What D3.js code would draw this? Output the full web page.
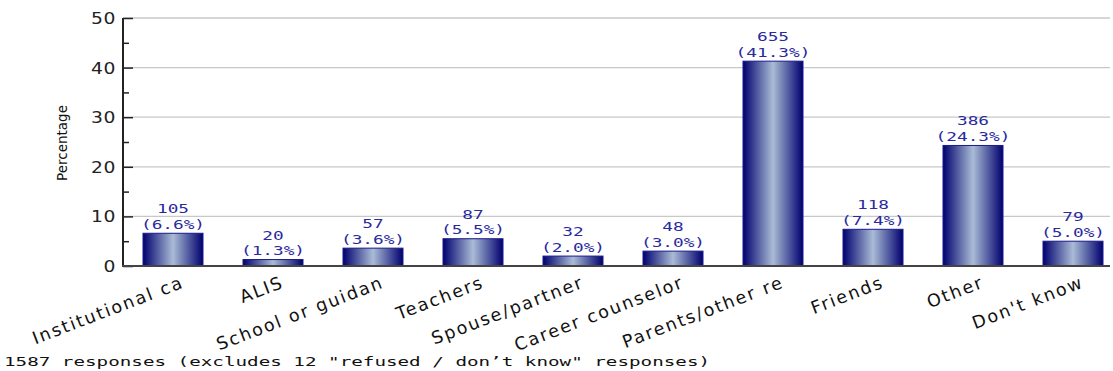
<!DOCTYPE html>
<html>
<head>
<meta charset="utf-8">
<script src="https://cdn.jsdelivr.net/npm/d3@7"></script>
<style>
  body { margin: 0; background: #fff; }
  svg { display: block; }
</style>
</head>
<body>
<div id="chart"></div>
<script>
// chart values
const categories = ["Institutional ca", "ALIS", "School or guidan", "Teachers", "Spouse/partner",
    "Career counselor", "Parents/other re", "Friends", "Other", "Don't know"];
const counts = [105, 20, 57, 87, 32, 48, 655, 118, 386, 79];
const percents = [6.6, 1.3, 3.6, 5.5, 2.0, 3.0, 41.3, 7.4, 24.3, 5.0];
const yTicks = [0, 10, 20, 30, 40, 50];
const footnote = "1587 responses (excludes 12 \"refused / don\u2019t know\" responses)";

const W = 1113, H = 371;
const plotLeft = 123, plotRight = 1110, plotTop = 18, plotBottom = 266;

const svg = d3.select("#chart").append("svg")
    .attr("width", W).attr("height", H);

const x = d3.scaleBand().domain(categories).range([plotLeft, plotLeft + 1000]).paddingInner(0.4).paddingOuter(0.2);
const y = d3.scaleLinear().domain([0, 50]).range([plotBottom, plotTop]);

const defs = svg.append("defs");
const grad = defs.append("linearGradient").attr("id", "barGrad")
    .attr("x1", "0%").attr("x2", "100%").attr("y1", "0%").attr("y2", "0%");
grad.append("stop").attr("offset", "0%").attr("stop-color", "#00006e");
grad.append("stop").attr("offset", "50%").attr("stop-color", "#a9bcd6");
grad.append("stop").attr("offset", "100%").attr("stop-color", "#00006e");

// gridlines
svg.append("g")
    .selectAll("line")
    .data(yTicks.filter(d => d > 0))
    .enter().append("line")
    .attr("x1", plotLeft).attr("x2", plotRight)
    .attr("y1", d => y(d)).attr("y2", d => y(d))
    .attr("stroke", "#c8c8c8").attr("stroke-width", 1.3);

// bars
svg.selectAll("rect.bar")
    .data(categories)
    .enter().append("rect")
    .attr("class", "bar")
    .attr("x", d => x(d))
    .attr("width", x.bandwidth())
    .attr("y", (d, i) => y(percents[i]))
    .attr("height", (d, i) => y(0) - y(percents[i]))
    .attr("fill", "url(#barGrad)")
    .attr("stroke", "#1a1a8a").attr("stroke-width", 1);

// value labels (wide monospace look)
const sx = 1.42;
const lbl = svg.append("g")
    .attr("font-family", "DejaVu Sans Mono, monospace")
    .attr("font-size", 12.5)
    .attr("fill", "#2a2aa0")
    .attr("text-anchor", "middle");
lbl.selectAll("text.count")
    .data(categories)
    .enter().append("text")
    .attr("transform", (d, i) => `translate(${x(d) + x.bandwidth() / 2},${y(percents[i]) - 20}) scale(${sx},1)`)
    .text((d, i) => counts[i]);
lbl.selectAll("text.pct")
    .data(categories)
    .enter().append("text")
    .attr("transform", (d, i) => `translate(${x(d) + x.bandwidth() / 2},${y(percents[i]) - 4.5}) scale(${sx},1)`)
    .text((d, i) => "(" + percents[i].toFixed(1) + "%)");

// y axis
const yAxis = svg.append("g")
    .attr("transform", `translate(${plotLeft},0)`)
    .call(d3.axisRight(y).tickValues(d3.range(0, 51, 5)).tickSize(0).tickFormat(""));
yAxis.select(".domain").remove();
yAxis.append("line").attr("y1", plotTop).attr("y2", plotBottom).attr("stroke", "#222").attr("stroke-width", 2);
yAxis.selectAll(".tick").append("line")
    .attr("x2", d => d % 10 === 0 ? 10 : 6)
    .attr("stroke", "#222").attr("stroke-width", 1.5);
yAxis.selectAll(".tick").append("text")
    .attr("transform", "translate(-7,0) scale(1.25,1)")
    .attr("dy", "0.36em")
    .attr("text-anchor", "end")
    .attr("font-family", "DejaVu Sans, sans-serif")
    .attr("font-size", 15)
    .attr("letter-spacing", 0.5)
    .attr("fill", "#222")
    .text(d => d % 10 === 0 ? d : "");

// x axis line
svg.append("line")
    .attr("x1", plotLeft - 1).attr("x2", plotRight)
    .attr("y1", plotBottom).attr("y2", plotBottom)
    .attr("stroke", "#444").attr("stroke-width", 2);

// category labels
svg.append("g").selectAll("text")
    .data(categories)
    .enter().append("text")
    .attr("transform", d => `translate(${x(d) + x.bandwidth() / 2 + 12},${plotBottom + 21}) rotate(-21)`)
    .attr("text-anchor", "end")
    .attr("font-family", "DejaVu Sans, sans-serif")
    .attr("font-size", 17.5)
    .attr("letter-spacing", 1.9)
    .attr("fill", "#111")
    .text(d => d);

// y title
svg.append("text")
    .attr("transform", `translate(67,${(plotTop + plotBottom) / 2 + 1}) rotate(-90)`)
    .attr("text-anchor", "middle")
    .attr("font-family", "DejaVu Sans, sans-serif")
    .attr("font-size", 13.5)
    .attr("fill", "#111")
    .text("Percentage");

// footnote
svg.append("text")
    .attr("transform", "translate(4,366) scale(1.48,1)")
    .attr("font-family", "DejaVu Sans Mono, monospace")
    .attr("font-size", 13)
    .attr("fill", "#111")
    .text(footnote);
</script>
</body>
</html>
